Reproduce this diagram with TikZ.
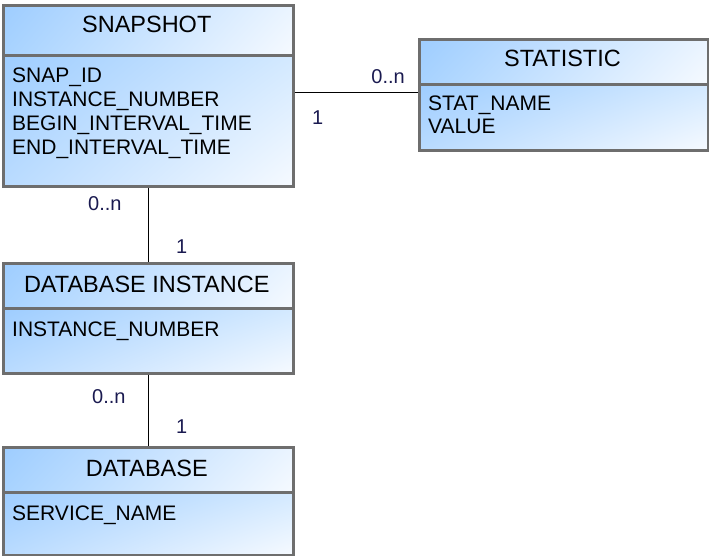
\documentclass[tikz,border=0pt]{standalone}
\usepackage{fontspec}
\setmainfont{Liberation Sans}
\usetikzlibrary{shadings}
\definecolor{bluec}{HTML}{9ECDFF}
\definecolor{llc}{HTML}{B9DBFF}
\definecolor{urc}{HTML}{D3E9FF}
\definecolor{whc}{HTML}{F6FAFF}
\definecolor{tllc}{HTML}{A8D3FF}
\definecolor{turc}{HTML}{EAF4FF}
\definecolor{bordc}{HTML}{6E6E6E}
\definecolor{labc}{HTML}{1A1A50}
\begin{document}
\begin{tikzpicture}[x=1pt,y=-1pt]
\tikzset{
 box/.style={draw=bordc, line width=3pt, inner sep=0pt, anchor=north west, rectangle,
   upper left=bluec, upper right=urc, lower left=llc, lower right=whc},
 tbox/.style={box, upper left=bluec, upper right=turc, lower left=tllc, lower right=whc},
 ttl/.style={font=\fontsize{23.5}{27}\selectfont, anchor=base, inner sep=0pt},
 attr/.style={font=\fontsize{21}{24}\selectfont, anchor=base west, inner sep=0pt},
 mult/.style={font=\fontsize{20}{24}\selectfont, text=labc, inner sep=0pt},
 conn/.style={draw=black, line width=1pt}
}
\useasboundingbox (0,0) rectangle (709,556);
% SNAPSHOT
\node[tbox, minimum width=289.5pt, minimum height=50pt] (snapT) at (2,4) {};
\node[box, minimum width=289.5pt, minimum height=131pt] (snapB) at (2,54) {};
\node[ttl] (snapTt) at (146.75,33) {SNAPSHOT};
\node[attr] (snapA1) at (12,83) {SNAP\_ID};
\node[attr] (snapA2) at (12,107) {INSTANCE\_NUMBER};
\node[attr] (snapA3) at (12,131) {BEGIN\_INTERVAL\_TIME};
\node[attr] (snapA4) at (12,155) {END\_INTERVAL\_TIME};
% STATISTIC
\node[tbox, minimum width=289pt, minimum height=45pt] (statT) at (418,38) {};
\node[box, minimum width=289pt, minimum height=66pt] (statB) at (418,83) {};
\node[ttl] (statTt) at (562.5,67) {STATISTIC};
\node[attr] (statA1) at (428,111) {STAT\_NAME};
\node[attr] (statA2) at (428,134) {VALUE};
% DATABASE INSTANCE
\node[tbox, minimum width=289.5pt, minimum height=45pt] (diT) at (2,262) {};
\node[box, minimum width=289.5pt, minimum height=64.5pt] (diB) at (2,307) {};
\node[ttl] (diTt) at (146.75,292) {DATABASE INSTANCE};
\node[attr] (diA1) at (12,336) {INSTANCE\_NUMBER};
% DATABASE
\node[tbox, minimum width=289.5pt, minimum height=45pt] (dbT) at (2,446) {};
\node[box, minimum width=289.5pt, minimum height=62.5pt] (dbB) at (2,491) {};
\node[ttl] (dbTt) at (146.75,476) {DATABASE};
\node[attr] (dbA1) at (12,520) {SERVICE\_NAME};
% connectors
\coordinate (hy) at (0,93);
\draw[conn] (hy -| snapB.east) -- (hy -| statB.west);
\draw[conn] (snapB.south) -- (diT.north);
\draw[conn] (diB.south) -- (dbT.north);
% multiplicities
\node[mult, anchor=base east] (m1) at (405,84) {0..n};
\node[mult, anchor=base west] (m2) at (312,125) {1};
\node[mult, anchor=base west] (m3) at (88,211) {0..n};
\node[mult, anchor=base west] (m4) at (176,253) {1};
\node[mult, anchor=base west] (m5) at (92,403) {0..n};
\node[mult, anchor=base west] (m6) at (176,433) {1};
\end{tikzpicture}
\end{document}
